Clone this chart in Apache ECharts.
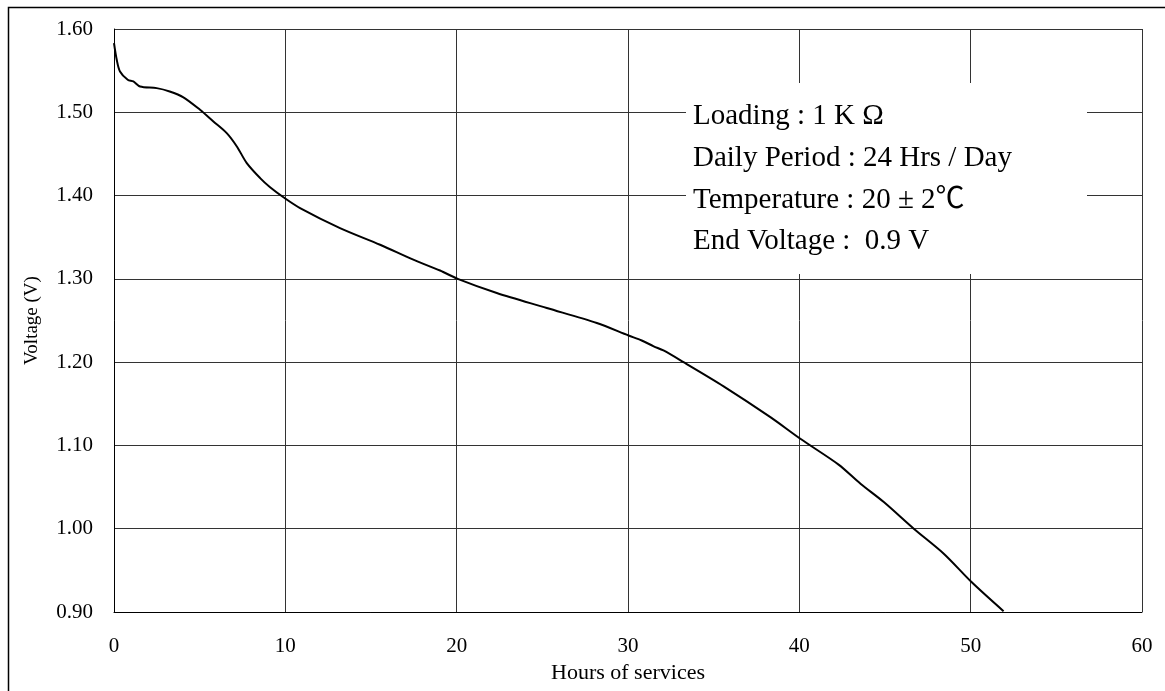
<!DOCTYPE html>
<html>
<head>
<meta charset="utf-8">
<script src="https://cdn.jsdelivr.net/npm/echarts@6/dist/echarts.min.js"></script>
<style>
    html, body { margin: 0; padding: 0; background: #fff; }
    #chart { width: 1165px; height: 691px; }
</style>
</head>
<body>
<div id="chart"></div>
<script>
    // discharge curve
    var hours = [0, 0.16, 0.35, 0.8, 1.13, 1.52, 2.49, 3.25, 4.05, 5.02, 5.8, 6.58, 7.17, 7.75, 8.53, 9.11, 9.89,
        10.86, 13.19, 15.53, 17.47, 19.03, 20.06, 22.34, 25.26, 28.18, 30.03, 30.8, 31.5, 32.07, 33.24,
        35.58, 38.31, 40.06, 42.29, 43.57, 44.93, 46.68, 48.43, 50.05, 51.92];
    var voltage = [1.583, 1.563, 1.549, 1.539, 1.537, 1.531, 1.529, 1.525, 1.518, 1.503, 1.489, 1.475, 1.459, 1.439, 1.421, 1.410, 1.398,
        1.385, 1.361, 1.341, 1.323, 1.310, 1.300, 1.283, 1.265, 1.247, 1.232, 1.226, 1.219, 1.214, 1.200,
        1.171, 1.134, 1.108, 1.077, 1.054, 1.032, 1.000, 0.970, 0.936, 0.901];
    var xTicks = [0, 60, 10];      // min, max, interval
    var yTicks = [0.9, 1.6, 0.1];
    var notes = ['Loading : 1 K Ω', 'Daily Period : 24 Hrs / Day', 'Temperature : 20 ± 2℃', 'End Voltage :  0.9 V'];

    var serif = '"Liberation Serif", "Times New Roman", "Noto Sans CJK SC", serif';
    var chart = echarts.init(document.getElementById('chart'));

    var points = hours.map(function (h, i) { return [h, voltage[i]]; });

    var noteItems = [{
        type: 'rect',
        z: 100,
        shape: {x: 686, y: 83, width: 401, height: 191},
        style: {fill: '#fff'}
    }];
    notes.forEach(function (t, i) {
        noteItems.push({
            type: 'text',
            z: 101,
            x: 693,
            y: 116.5 + i * 41.7,
            style: {
                text: t,
                font: '29px ' + serif,
                fill: '#000',
                verticalAlign: 'middle'
            }
        });
    });
    // frame round the picture
    noteItems.push({
        type: 'rect',
        z: 100,
        shape: {x: 8.5, y: 7.5, width: 1300, height: 800},
        style: {fill: 'none', stroke: '#000', lineWidth: 1.5}
    });

    var option = {
        backgroundColor: '#fff',
        animation: false,
        grid: {left: 114, right: 23, top: 29, bottom: 79},
        xAxis: {
            type: 'value',
            min: xTicks[0],
            max: xTicks[1],
            interval: xTicks[2],
            name: 'Hours of services',
            nameLocation: 'middle',
            nameGap: 48,
            nameTextStyle: {fontFamily: serif, fontSize: 22, color: '#000'},
            axisLine: {show: true, lineStyle: {color: '#000', width: 1}},
            axisTick: {show: false},
            axisLabel: {fontFamily: serif, fontSize: 21, color: '#000', margin: 24},
            splitLine: {show: true, lineStyle: {color: '#333', width: 1}}
        },
        yAxis: {
            type: 'value',
            min: yTicks[0],
            max: yTicks[1],
            interval: yTicks[2],
            name: 'Voltage (V)',
            nameLocation: 'middle',
            nameGap: 72,
            nameTextStyle: {fontFamily: serif, fontSize: 19, color: '#000'},
            axisLine: {show: true, lineStyle: {color: '#000', width: 1}},
            axisTick: {show: false},
            axisLabel: {
                fontFamily: serif, fontSize: 21, color: '#000', margin: 21,
                formatter: function (v) { return v.toFixed(2); }
            },
            splitLine: {show: true, lineStyle: {color: '#333', width: 1}}
        },
        series: [{
            type: 'line',
            data: points,
            smooth: 0.3,
            symbol: 'none',
            lineStyle: {color: '#000', width: 2}
        }],
        graphic: noteItems
    };
    chart.setOption(option);
</script>
</body>
</html>
